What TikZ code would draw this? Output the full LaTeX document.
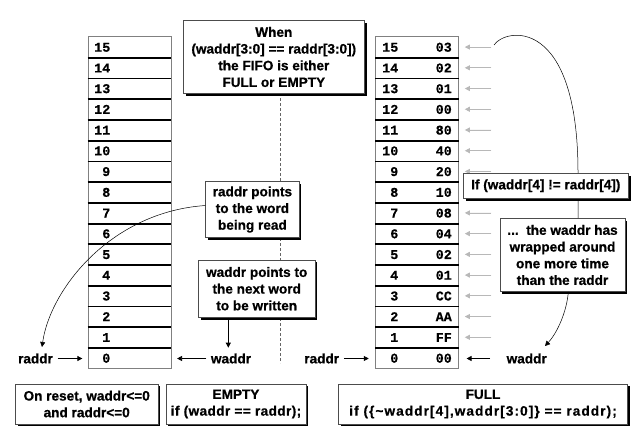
\documentclass[tikz,border=0pt]{standalone}
\usepackage{fontspec}
\setmainfont{Liberation Sans}[BoldFeatures={FakeBold=0.7}]
\newfontfamily\monof{Liberation Mono}[BoldFeatures={FakeBold=0.4}]
\usetikzlibrary{arrows.meta}
\begin{document}
\begin{tikzpicture}[x=1pt,y=-1pt,
  lab/.style={font=\fontsize{13.6}{16.7}\selectfont\bfseries, inner sep=4.5pt},
  box/.style={draw=black!70, line width=0.6pt, fill=white, align=center, inner sep=0pt,
    font=\fontsize{13.6}{16.7}\selectfont\bfseries,
    preaction={draw=none, fill=black, transform canvas={shift={(2.2pt,-2.2pt)}}}},
  cell/.style={draw=black!50, line width=0.7pt, fill=white, minimum width=83pt, minimum height=20.73pt, inner sep=0pt},
  num/.style={font=\fontsize{13.4}{13.4}\selectfont\monof\bfseries, anchor=base east, inner sep=0pt},
  arr/.style={-{Triangle[length=5pt,width=5pt]}, line width=0.8pt, draw=black},
  garr/.style={-{Triangle[length=5pt,width=5pt]}, line width=0.8pt, draw=black!28, fill=black!28},
  thin/.style={line width=0.5pt, draw=black}
]
\fill[white] (0,0) rectangle (636,444);
\useasboundingbox (0,0) rectangle (636,444);

% dashed divider
\coordinate (dtop) at (280,93);
\coordinate (dbot) at (280,363);
\draw[black!60, line width=0.7pt, dash pattern=on 3pt off 2pt] (dtop) -- (dbot);

% memory columns
\foreach \i/\d in {15/03,14/02,13/01,12/00,11/80,10/40,9/20,8/10,7/08,6/04,5/02,4/01,3/CC,2/AA,1/FF,0/00} {
  \pgfmathsetmacro\cy{47.07+(15-\i)*20.73}
  \node[cell] (L\i) at (129.5,\cy) {};
  \node[cell] (R\i) at (417,\cy) {};
  \node[num] (LN\i) at (110.5,\cy+4.6) {\i};
  \node[num] (RN\i) at (398.5,\cy+4.6) {\i};
  \node[num] (RD\i) at (452,\cy+4.6) {\d};
}
\foreach \i in {1,...,15} {
  \draw[line width=1.8pt] (L\i.south west) -- (L\i.south east);
  \draw[line width=1.8pt] (R\i.south west) -- (R\i.south east);
  \pgfmathsetmacro\cy{47.07+(15-\i)*20.73}
  \coordinate (g\i) at (491,\cy);
  \draw[garr, shorten >=6pt] (g\i) -- (R\i.east);
}

% right arc (behind boxes)
\coordinate (arcS) at (494,45);
\coordinate (arcM) at (578,173);
\node[box, minimum width=125pt, minimum height=73.4pt] (wrap) at (562.5,255)
  {...\ \ the waddr has\\wrapped around\\one more time\\than the raddr};
\draw[thin] (arcS) .. controls (505,28) and (578,15) .. (arcM) -- (wrap.north -| arcM);
\node[box, minimum width=165pt, minimum height=25pt] (ifbox) at (545.8,185.8)
  {If (waddr[4] != raddr[4])};

% top box
\node[box, minimum width=181pt, minimum height=72.6pt] (topbox) at (273.8,57)
  {When\\(waddr[3:0] == raddr[3:0])\\the FIFO is either\\FULL or EMPTY};

% raddr points box
\node[box, minimum width=93.3pt, minimum height=55.6pt] (rbox) at (252.4,209.5)
  {raddr points\\to the word\\being read};
% waddr points box
\node[box, minimum width=116.7pt, minimum height=57.3pt] (wbox) at (256.7,288.7)
  {waddr points to\\the next word\\to be written};

% labels
\node[lab] (rL) at (35.5,358.5) {raddr};
\node[lab] (wM) at (231,358.5) {waddr};
\node[lab] (rM) at (321.7,358.5) {raddr};
\node[lab] (wR) at (526.7,358.5) {waddr};

\draw[arr, shorten >=5.3pt] (rL.east) -- (rL.east -| L0.west);
\draw[arr, shorten >=5.7pt] (wM.west) -- (wM.west -| L0.east);
\draw[arr, shorten >=6.4pt] (rM.east) -- (rM.east -| R0.west);
\coordinate (wRs) at (490,358.5);
\draw[arr, shorten >=7.7pt] (wRs) -- (wRs -| R0.east);

% waddr box arrow down
\coordinate (wx) at (228.3,0);
\coordinate (wtip) at (228.3,347.7);
\draw[arr] (wbox.south -| wx) -- (wtip);

% curved arrow from raddr box
\coordinate (rtip) at (42,347);
\draw[thin, -{Triangle[length=5pt,width=5pt]}] ([yshift=4pt]rbox.west) .. controls (110,212) and (50,290) .. (rtip);

% curved arrow from wrap box
\coordinate (ws) at (568.3,0);
\coordinate (wtip2) at (545,346);
\draw[thin, -{Triangle[length=5pt,width=5pt]}] (wrap.south -| ws) .. controls (567,310) and (558,332) .. (wtip2);

% bottom boxes
\node[box, minimum width=142.5pt, minimum height=40pt] (reset) at (86.7,404)
  {On reset, waddr<=0\\and raddr<=0};
\node[box, minimum width=140pt, minimum height=40pt] (empty) at (236,404)
  {EMPTY\\{\addfontfeature{LetterSpace=3}if (waddr == raddr);}};
\node[box, minimum width=289.4pt, minimum height=40pt] (full) at (483,404)
  {FULL\\{\addfontfeature{LetterSpace=8}if (\{\textasciitilde waddr[4],waddr[3:0]\} == raddr);}};
\end{tikzpicture}
\end{document}
